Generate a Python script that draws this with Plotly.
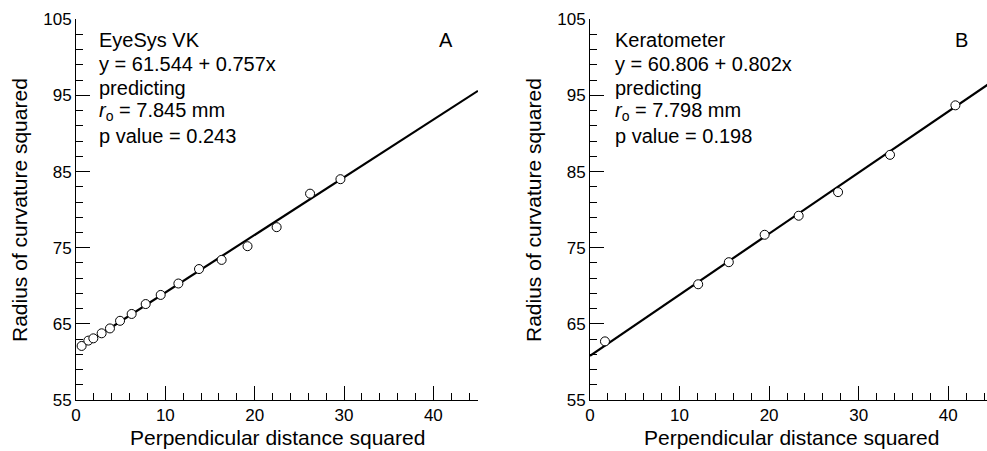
import plotly.graph_objects as go

# ---- data ----
a_x = [0.63, 1.38, 1.94, 2.87, 3.8, 4.93, 6.23, 7.8, 9.48, 11.46, 13.77, 16.3, 19.2, 22.46, 26.2, 29.6]
a_y = [62.1, 62.8, 63.1, 63.76, 64.4, 65.4, 66.3, 67.6, 68.8, 70.3, 72.2, 73.4, 75.2, 77.7, 82.1, 84.0]
b_x = [1.67, 12.08, 15.5, 19.5, 23.3, 27.7, 33.5, 40.8]
b_y = [62.7, 70.2, 73.1, 76.7, 79.2, 82.3, 87.2, 93.7]

a_fit = (61.544, 0.757)   # intercept, slope
b_fit = (60.806, 0.802)
a_line_x = [0.5, 45]
b_line_x = [0, 45]

a_text = ["EyeSys VK", "y = 61.544 + 0.757x", "predicting", "<i>r</i><sub>o</sub> = 7.845 mm", "p value = 0.243"]
b_text = ["Keratometer", "y = 60.806 + 0.802x", "predicting", "<i>r</i><sub>o</sub> = 7.798 mm", "p value = 0.198"]
panel_labels = ["A", "B"]
x_title = "Perpendicular distance squared"
y_title = "Radius of curvature squared"

W, H = 987, 451
FONT = "Liberation Sans, Arial, Helvetica, sans-serif"

def px(x):
    return x / W

def py(y):
    return 1 - y / H

fig = go.Figure()

for (xs, ys, fit, lx, xa, ya) in [
    (a_x, a_y, a_fit, a_line_x, "x", "y"),
    (b_x, b_y, b_fit, b_line_x, "x2", "y2"),
]:
    fig.add_trace(go.Scatter(
        x=lx, y=[fit[0] + fit[1] * v for v in lx], mode="lines",
        line=dict(color="black", width=2.2), xaxis=xa, yaxis=ya, showlegend=False,
        hoverinfo="skip"))
    fig.add_trace(go.Scatter(
        x=xs, y=ys, mode="markers",
        marker=dict(symbol="circle", size=9, color="white",
                    line=dict(color="black", width=1)),
        xaxis=xa, yaxis=ya, showlegend=False, cliponaxis=False))

ydom = [py(400), py(19.3)]
axis_common = dict(
    showgrid=False, zeroline=False, showline=True, linecolor="black", linewidth=1,
    ticks="inside", ticklen=14, tickwidth=1, tickcolor="black", automargin=False,
    tickfont=dict(family=FONT, size=17, color="black"),
)
xa_common = dict(axis_common, tick0=0, dtick=10,
                 minor=dict(ticks="inside", ticklen=7, tickwidth=1, tickcolor="black", dtick=2, tick0=0))
ya_common = dict(axis_common, tick0=55, dtick=10, range=[55, 105],
                 minor=dict(ticks="inside", ticklen=7, tickwidth=1, tickcolor="black", dtick=2, tick0=55))

fig.update_layout(
    width=W, height=H,
    margin=dict(l=0, r=0, t=0, b=0, autoexpand=False),
    paper_bgcolor="white", plot_bgcolor="white",
    font=dict(family=FONT, color="black"),
    xaxis=dict(xa_common, domain=[px(76), px(478)], range=[0, 45], anchor="y"),
    yaxis=dict(ya_common, domain=ydom, anchor="x"),
    xaxis2=dict(xa_common, domain=[px(590), 1.0], range=[0, 45 * (987 - 590) / (993 - 590)], anchor="y2"),
    yaxis2=dict(ya_common, domain=ydom, anchor="x2"),
)

anns = []
line_y = [40, 64, 88, 112, 136]
for left, cx, text, lab, labx in [
    (97, 277, a_text, panel_labels[0], 446),
    (613, 791, b_text, panel_labels[1], 961),
]:
    for t, ly in zip(text, line_y):
        anns.append(dict(xref="paper", yref="paper", x=px(left), y=py(ly), xanchor="left", yanchor="middle",
                         text=t, align="left", showarrow=False,
                         font=dict(family=FONT, size=20, color="black")))
    anns.append(dict(xref="paper", yref="paper", x=px(labx), y=py(40), xanchor="center", yanchor="middle",
                     text=lab, showarrow=False, font=dict(family=FONT, size=20, color="black")))
    anns.append(dict(xref="paper", yref="paper", x=px(cx), y=py(437), xanchor="center", yanchor="middle",
                     text=x_title, showarrow=False, font=dict(family=FONT, size=21, color="black")))

for cx in [20, 534]:
    anns.append(dict(xref="paper", yref="paper", x=px(cx), y=py(210), xanchor="center", yanchor="middle",
                     text=y_title, textangle=-90, showarrow=False,
                     font=dict(family=FONT, size=21, color="black")))

fig.update_layout(annotations=anns)
fig.write_html("out.html", config={"displayModeBar": False},
               post_script="document.body.style.margin='0';document.body.style.overflow='hidden';")
